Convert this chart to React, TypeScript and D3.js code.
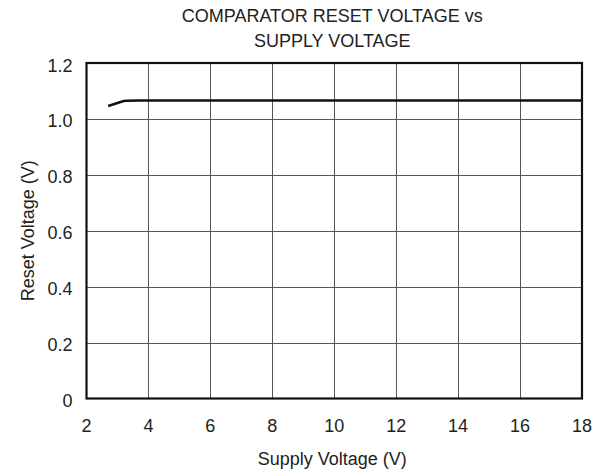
import React from "react";
import * as d3 from "d3";

const supplyV = [2.7, 3.2, 3.3, 3.7, 4, 6, 8, 10, 12, 14, 16, 18];
const resetV = [1.046, 1.064, 1.065, 1.066, 1.066, 1.066, 1.066, 1.066, 1.066, 1.066, 1.066, 1.066];
const xTicks = [2, 4, 6, 8, 10, 12, 14, 16, 18];
const yTicks = [0, 0.2, 0.4, 0.6, 0.8, 1.0, 1.2];
const yTickLabels = ["0", "0.2", "0.4", "0.6", "0.8", "1.0", "1.2"];

export default function App() {
  const W = 607, H = 474;
  const L = 86.5, R = 582, T = 63, B = 398.5;
  const x = d3.scaleLinear().domain([2, 18]).range([L, R]);
  const y = d3.scaleLinear().domain([0, 1.2]).range([B, T]);
  const line = d3.line<number>().x((_, i) => x(supplyV[i])).y((d) => y(d));
  const font = "'Liberation Sans', Arial, sans-serif";
  const fs = 18;
  const cx = (L + R) / 2 - 2;
  return (
    <svg width={W} height={H} style={{ position: "absolute", left: 0, top: 0 }} fontFamily={font}>
      <rect width={W} height={H} fill="#fff" />
      <text x={cx} y={21.5} textAnchor="middle" fontSize={fs} fill="#222">COMPARATOR RESET VOLTAGE vs</text>
      <text x={cx} y={46.5} textAnchor="middle" fontSize={fs} fill="#222">SUPPLY VOLTAGE</text>
      {xTicks.slice(1, -1).map((t) => (
        <line key={"gx" + t} x1={Math.round(x(t)) + 0.5} x2={Math.round(x(t)) + 0.5} y1={T} y2={B} stroke="#555" strokeWidth={1} />
      ))}
      {yTicks.slice(1, -1).map((t) => (
        <line key={"gy" + t} x1={L} x2={R} y1={Math.round(y(t)) + 0.5} y2={Math.round(y(t)) + 0.5} stroke="#555" strokeWidth={1} />
      ))}
      <rect x={L} y={T} width={R - L} height={B - T} fill="none" stroke="#111" strokeWidth={2.2} />
      <path d={line(resetV) || ""} fill="none" stroke="#111" strokeWidth={2.6} />
      {xTicks.map((t) => (
        <text key={"xt" + t} x={x(t)} y={432} textAnchor="middle" fontSize={fs} fill="#222">{t}</text>
      ))}
      {yTicks.map((t, i) => (
        <text key={"yt" + t} x={72.5} y={y(t) + 8.5} textAnchor="end" fontSize={fs} fill="#222">{yTickLabels[i]}</text>
      ))}
      <text x={cx} y={465} textAnchor="middle" fontSize={fs} fill="#222">Supply Voltage (V)</text>
      <text transform={`translate(33.5, ${(T + B) / 2}) rotate(-90)`} textAnchor="middle" fontSize={fs} fill="#222">Reset Voltage (V)</text>
    </svg>
  );
}
